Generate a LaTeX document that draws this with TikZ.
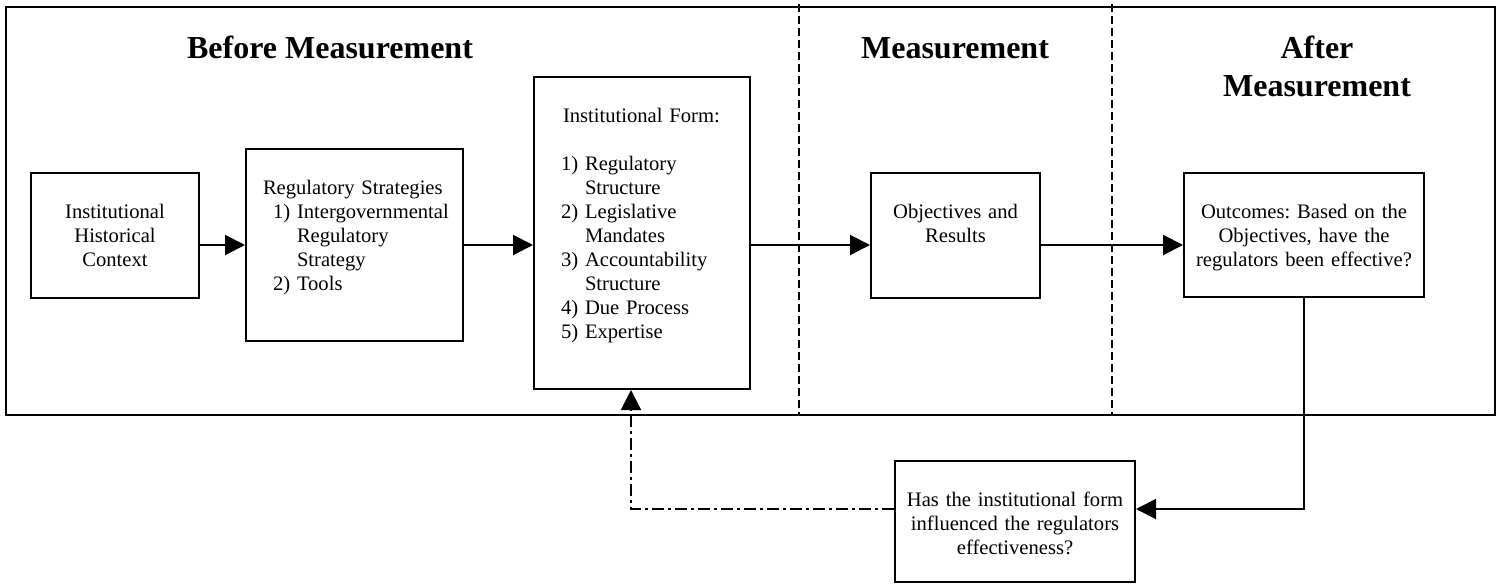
\documentclass[tikz,border=0pt]{standalone}
\usepackage{fontspec}
\setmainfont{Liberation Serif}
\frenchspacing
\usetikzlibrary{arrows.meta}

\begin{document}
\begin{tikzpicture}[x=0.5pt,y=-0.5pt,
  stage/.style={draw=black, line width=1pt, inner sep=0pt, text height=22.5pt, font=\fontsize{10.3}{12}\selectfont},
  phase/.style={font=\fontsize{16}{19}\selectfont\bfseries, anchor=base},
  flow/.style={line width=1pt, -{Triangle[length=10pt, width=10pt]}},
  divider/.style={line width=0.8pt, dash pattern=on 4pt off 2pt}]
\useasboundingbox (0,0) rectangle (1497,584);
\draw[line width=1pt] (6,7) rectangle (1495,415);
\draw[divider] (799,4) -- (799,415);
\draw[divider] (1112,4) -- (1112,415);
\node[phase] (before) at (330,58.5) {Before Measurement};
\node[phase] (during) at (955,58.5) {Measurement};
\node[phase, align=center, text width=120pt] (after) at (1317,58.5) {After\\Measurement};
\node[stage, text width=84pt, text depth=40pt, align=center] (context) at (115,235.5) {Institutional\\Historical\\Context};
\node[stage, text width=108.5pt, text depth=73.5pt, align=left] (strategies) at (354.5,245) {\hspace*{8.5pt}Regulatory Strategies\\\hspace*{13.5pt}1) Intergovernmental\\\hspace*{25.5pt}Regulatory\\\hspace*{25.5pt}Strategy\\\hspace*{13.5pt}2) Tools};
\node[stage, text width=108pt, text depth=133.5pt, align=left] (form) at (642,233) {\hspace*{14.5pt}Institutional Form:\\[12pt]\hspace*{13.5pt}1) Regulatory\\\hspace*{25.5pt}Structure\\\hspace*{13.5pt}2) Legislative\\\hspace*{25.5pt}Mandates\\\hspace*{13.5pt}3) Accountability\\\hspace*{25.5pt}Structure\\\hspace*{13.5pt}4) Due Process\\\hspace*{13.5pt}5) Expertise};
\node[stage, text width=84.5pt, text depth=40pt, align=center] (results) at (955.5,235.5) {Objectives and\\Results};
\node[stage, text width=120pt, text depth=39.5pt, align=center] (outcomes) at (1304,235) {Outcomes: Based on the\\Objectives, have the\\regulators been effective?};
\node[stage, text width=120pt, text depth=38pt, align=center] (influence) at (1015,521.5) {Has the institutional form\\influenced the regulators\\effectiveness?};
\draw[flow] (context.east |- strategies.west) -- (strategies.west);
\draw[flow] (strategies.east) -- (form.west |- strategies.east);
\draw[flow] (form.east |- strategies.east) -- (results.west |- strategies.east);
\draw[flow] (results.east |- strategies.east) -- (outcomes.west |- strategies.east);
\draw[flow] (outcomes.south) |- ([yshift=6.25pt]influence.east);
\draw[flow, dash pattern=on 6pt off 2pt on 1.5pt off 2pt] ([yshift=6.25pt]influence.west) -| ([xshift=-5.5pt]form.south);
\end{tikzpicture}
\end{document}
